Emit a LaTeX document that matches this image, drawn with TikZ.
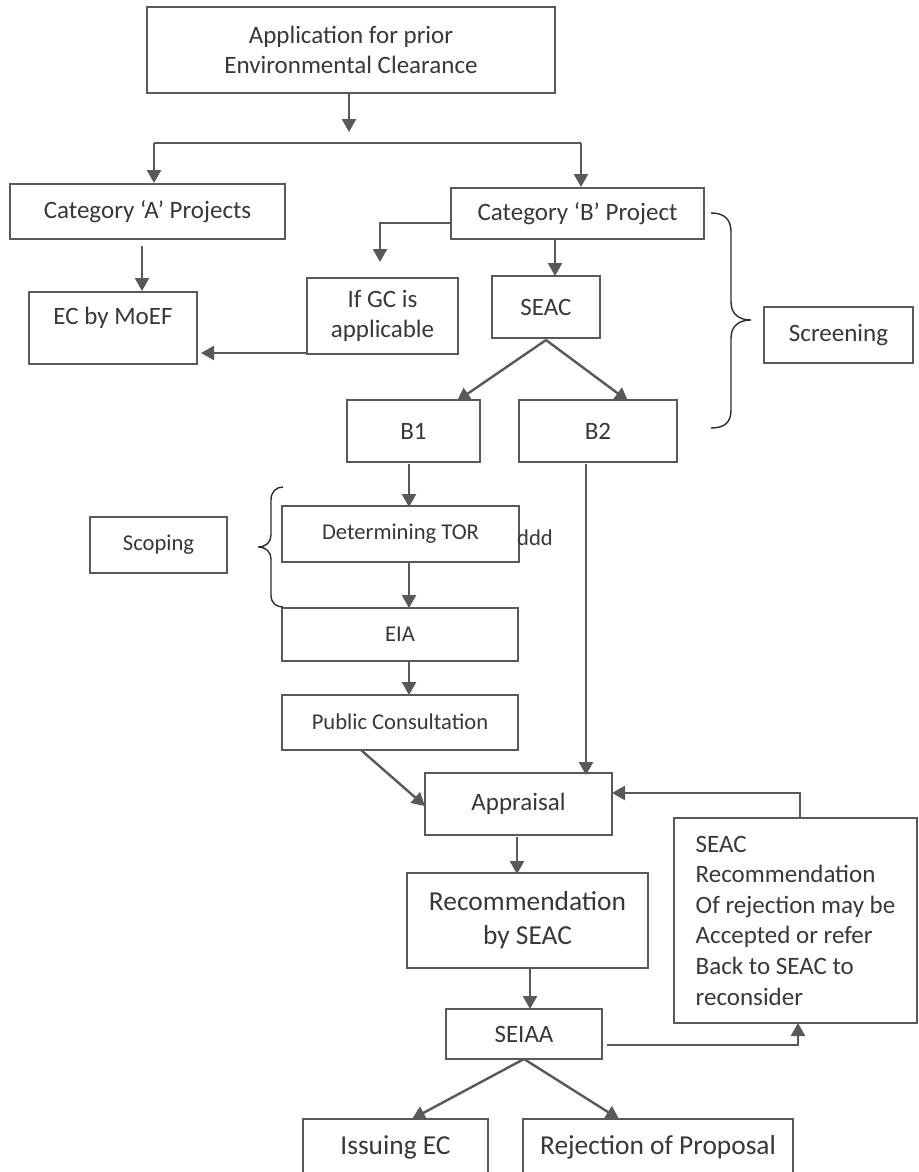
\documentclass[tikz,border=0pt]{standalone}
\usepackage{fontspec}
\setmainfont{Carlito}
\usetikzlibrary{arrows.meta}
\definecolor{lc}{HTML}{595959}
\definecolor{tc}{HTML}{383838}
\definecolor{bc}{HTML}{2E2E2E}
\begin{document}
\begin{tikzpicture}[x=1pt,y=-1pt,
  box/.style={draw=lc, line width=2pt, inner sep=0pt, text=tc, align=center},
  arr/.style={draw=lc, line width=2.4pt, -{Triangle[length=13pt,width=14pt]}},
  ln/.style={draw=lc, line width=2.4pt},
  bracepath/.style={draw=bc, line width=1.4pt},
  fS/.style={font=\fontsize{22.6}{27}\selectfont},
  fM/.style={font=\fontsize{25}{30}\selectfont},
  fL/.style={font=\fontsize{27.4}{34}\selectfont},
  txt/.style={inner sep=0pt, text=tc}]
\useasboundingbox (0,0) rectangle (918,1172);
\clip (0,0) rectangle (918,1172);
\fill[white] (0,0) rectangle (918,1172);

% boxes
\node[box,fM,minimum width=408pt,minimum height=86pt] (app) at (351,50) {Application for prior\\Environmental Clearance};
\node[box,fM,minimum width=275pt,minimum height=55pt] (catA) at (147.5,211.5) {Category ‘A’ Projects};
\node[box,fM,minimum width=253pt,minimum height=51pt] (catB) at (577.5,213.5) {Category ‘B’ Project};
\node[box,minimum width=168pt,minimum height=72pt] (moef) at (113,328) {};
\node[txt,fM] (moeft) at (113,318) {EC by MoEF};
\node[box,fM,minimum width=151pt,minimum height=76pt] (gc) at (382.5,316) {If GC is\\applicable};
\node[box,fM,minimum width=108pt,minimum height=62pt] (seac) at (546,307) {SEAC};
\node[box,fM,minimum width=149pt,minimum height=56pt] (screen) at (838.5,335) {Screening};
\node[box,fM,minimum width=133pt,minimum height=62pt] (b1) at (413.5,431) {B1};
\node[box,fM,minimum width=158pt,minimum height=62pt] (b2) at (598,431) {B2};
\node[box,fS,minimum width=137pt,minimum height=56pt] (scoping) at (158.5,545) {Scoping};
\node[box,fS,minimum width=237pt,minimum height=56pt] (tor) at (400.5,534) {Determining TOR};
\node[txt,fS,anchor=west] (ddd) at (517,538) {ddd};
\node[box,fS,minimum width=236pt,minimum height=53pt] (eia) at (400,634) {EIA};
\node[box,fS,minimum width=236pt,minimum height=55pt] (pc) at (400,722) {Public Consultation};
\node[box,fM,minimum width=187pt,minimum height=62pt] (appr) at (518.5,804) {Appraisal};
\node[box,fL,minimum width=241pt,minimum height=95pt] (rec) at (527.5,920) {Recommendation\\by SEAC};
\node[box,fM,minimum width=156pt,minimum height=50pt] (seiaa) at (524,1034) {SEIAA};
\node[box,font=\fontsize{25}{30.6}\selectfont,align=left,minimum width=243pt,minimum height=205pt] (seacrec) at (795.5,920.5) {SEAC\\Recommendation\\Of rejection may be\\Accepted or refer\\Back to SEAC to\\reconsider};
\node[box,fL,minimum width=185pt,minimum height=56pt] (issue) at (395.5,1147) {Issuing EC};
\node[box,fL,minimum width=270pt,minimum height=56pt] (reject) at (658,1147) {Rejection of Proposal};

% helper coordinates
\coordinate (appS) at (349,93);
\coordinate (a1) at (349,132);
\coordinate (splitL) at (154,143);
\coordinate (splitR) at (581,143);
\coordinate (caS) at (142,246);
\coordinate (caE) at (142,291);
\coordinate (cbW) at (451,223);
\coordinate (gcK) at (380,223);
\coordinate (gcE) at (380,262);
\coordinate (cbS) at (555,239);
\coordinate (seacE) at (555,276);
\coordinate (gcSW) at (307,353);
\coordinate (moefE) at (201,353);
\coordinate (seacS) at (546,340);
\coordinate (b1E) at (457,401);
\coordinate (b2E) at (628,401);
\coordinate (b1S) at (409,464);
\coordinate (torN) at (409,507);
\coordinate (torS) at (409,563);
\coordinate (eiaN) at (409,608);
\coordinate (eiaS) at (409,661);
\coordinate (pcN) at (409,695);
\coordinate (pcS) at (361,750);
\coordinate (apW) at (425,806);
\coordinate (b2S) at (586,464);
\coordinate (apN) at (586,775);
\coordinate (apS) at (517,837);
\coordinate (recN) at (517,874);
\coordinate (recS) at (530,969);
\coordinate (seN) at (530,1009);
\coordinate (seE) at (607,1045);
\coordinate (srK) at (798,1045);
\coordinate (srS) at (798,1023);
\coordinate (srN) at (800,818);
\coordinate (srK2) at (800,793);
\coordinate (apE) at (612,793);
\coordinate (seS) at (524,1059);
\coordinate (isN) at (412,1119);
\coordinate (rjN) at (619,1119);

% connectors
\draw[arr] (appS) -- (a1);
\draw[ln] (splitL) -- (splitR);
\draw[arr] (splitL) -- (splitL |- catA.north);
\draw[arr] (splitR) -- (splitR |- catB.north);
\draw[arr] (caS) -- (caE);
\draw[arr] (cbW) -- (gcK) -- (gcE);
\draw[arr] (cbS) -- (seacE);
\draw[arr] (gcSW) -- (moefE);
\draw[arr] (seacS) -- (b1E);
\draw[arr] (seacS) -- (b2E);
\draw[arr] (b1S) -- (torN);
\draw[arr] (torS) -- (eiaN);
\draw[arr] (eiaS) -- (pcN);
\draw[arr] (pcS) -- (apW);
\draw[arr] (b2S) -- (apN);
\draw[arr] (apS) -- (recN);
\draw[arr] (recS) -- (seN);
\draw[arr] (seE) -- (srK) -- (srS);
\draw[arr] (srN) -- (srK2) -- (apE);
\draw[arr] (seS) -- (isN);
\draw[arr] (seS) -- (rjN);

% braces
\draw[bracepath] (711,213) .. controls (725,213) and (731,220) .. (731,232) -- (731,302)
  .. controls (731,314) and (739,320) .. (751,320) .. controls (739,320) and (731,326) .. (731,338)
  -- (731,410) .. controls (731,422) and (725,428) .. (711,428);
\draw[bracepath] (283,487) .. controls (276,487) and (271,492) .. (271,500) -- (271,535)
  .. controls (271,542) and (266,547) .. (258,547) .. controls (266,547) and (271,552) .. (271,559)
  -- (271,595) .. controls (271,603) and (276,607) .. (283,607);
\end{tikzpicture}
\end{document}
